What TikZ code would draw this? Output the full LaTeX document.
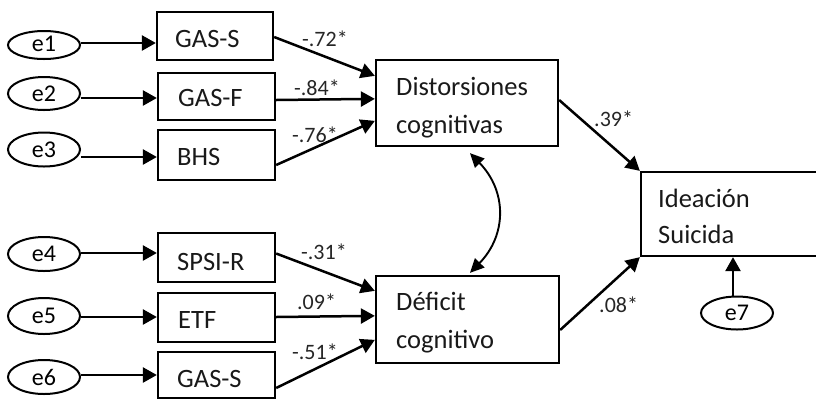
\documentclass[tikz,border=0pt]{standalone}
\usepackage{fontspec}
\setmainfont{Carlito}
\usetikzlibrary{arrows.meta,calc,shapes.geometric}
\begin{document}
\begin{tikzpicture}[x=1pt,y=-1pt,
  box/.style={draw,line width=2.3pt,rectangle,inner sep=0pt},
  err/.style={draw,line width=2pt,ellipse,inner sep=0pt,minimum width=72pt,font=\fontsize{24}{24}\selectfont},
  txt/.style={anchor=base west,inner sep=0pt,font=\fontsize{26.5}{26.5}\selectfont,text=black!90},
  coef/.style={anchor=base west,inner sep=0pt,font=\fontsize{22}{22}\selectfont,text=black!85},
  arr/.style={line width=2.5pt,-{Triangle[length=14pt,width=15pt]}},
  dbl/.style={line width=1.9pt,{Triangle[length=14pt,width=13pt]}-{Triangle[length=14pt,width=13pt]}},
]
\useasboundingbox (0,0) rectangle (816,400);

% boxes
\node[box,minimum width=116pt,minimum height=48pt] (gass1) at (215,36) {};
\node[box,minimum width=117pt,minimum height=47pt] (gasf) at (216.5,96.5) {};
\node[box,minimum width=117pt,minimum height=50pt] (bhs) at (216.5,155) {};
\node[box,minimum width=117pt,minimum height=49pt] (spsi) at (216.5,257.5) {};
\node[box,minimum width=117pt,minimum height=49pt] (etf) at (216.5,317.5) {};
\node[box,minimum width=117pt,minimum height=46pt] (gass2) at (216.5,375) {};
\node[box,minimum width=182pt,minimum height=86pt] (dist) at (467,103) {};
\node[box,minimum width=183pt,minimum height=87pt] (def) at (467.5,319.5) {};
\node[box,minimum width=189pt,minimum height=84pt] (ideac) at (735.5,214) {};

% box texts
\node[txt] (t1) at (175,47) {GAS-S};
\node[txt] (t2) at (178,106) {GAS-F};
\node[txt] (t3) at (177,165) {BHS};
\node[txt] (t4) at (177,270) {SPSI-R};
\node[txt] (t5) at (178,328) {ETF};
\node[txt] (t6) at (177,387) {GAS-S};
\node[txt] (t7) at (396,95) {Distorsiones};
\node[txt] (t8) at (396,133) {cognitivas};
\node[txt] (t9) at (396,310) {Déficit};
\node[txt] (t10) at (396,348) {cognitivo};
\node[txt] (t11) at (658,207) {Ideación};
\node[txt] (t12) at (658,243) {Suicida};

% error terms
\node[err,minimum height=28pt] (e1) at (44,45) {\raisebox{2pt}{e1}};
\node[err,minimum height=33pt] (e2) at (44,93.5) {\raisebox{-7pt}{e2}};
\node[err,minimum height=34pt] (e3) at (44,149.5) {\raisebox{-9pt}{e3}};
\node[err,minimum height=34pt] (e4) at (44,254) {\raisebox{-11pt}{e4}};
\node[err,minimum height=36pt] (e5) at (44,316) {\raisebox{-9pt}{e5}};
\node[err,minimum height=34pt] (e6) at (44,377) {\raisebox{-3pt}{e6}};
\node[err,minimum height=33pt] (e7) at (737,313) {\raisebox{-5pt}{e7}};

% error arrows
\draw[arr] ([yshift=2pt]e1.east) -- ([yshift=2pt]e1.east -| gass1.west);
\draw[arr] ([yshift=-4.5pt]e2.east) -- ([yshift=-4.5pt]e2.east -| gasf.west);
\draw[arr] ([yshift=-7.5pt]e3.east) -- ([yshift=-7.5pt]e3.east -| bhs.west);
\draw[arr] ([yshift=1pt]e4.east) -- ([yshift=1pt]e4.east -| spsi.west);
\draw[arr] ([yshift=-1pt]e5.east) -- ([yshift=-1pt]e5.east -| etf.west);
\draw[arr] ([yshift=2pt]e6.east) -- ([yshift=2pt]e6.east -| gass2.west);
\draw[arr] ([xshift=-4pt]e7.north) -- ([xshift=-4pt]e7.north |- ideac.south);

% paths to latent boxes
\draw[arr] ($(gass1.east)+(0,1)$) -- ($(dist.north west)+(0,17)$);
\draw[arr] ($(gasf.east)+(0,3.5)$) -- ($(dist.north west)+(0,40)$);
\draw[arr] ($(bhs.east)+(0,10)$) -- ($(dist.north west)+(0,62)$);
\draw[arr] ($(spsi.east)+(0,-4)$) -- ($(def.north west)+(0,16)$);
\draw[arr] ($(etf.east)+(0,-0.5)$) -- ($(def.north west)+(0,41)$);
\draw[arr] ($(gass2.east)+(0,13)$) -- ($(def.north west)+(0,65)$);

% paths to outcome
\draw[arr] ($(dist.east)+(0,-3)$) -- (ideac.north west);
\draw[arr] ($(def.east)+(0,10.5)$) -- (ideac.south west);

% covariance
\draw[dbl] ($(dist.south)+(3,6)$) .. controls +(37,38) and +(37,-38) .. ($(def.north)+(2.5,-2)$);

% coefficients
\node[coef] (c1) at (302,46) {-.72*};
\node[coef] (c2) at (294,95) {-.84*};
\node[coef] (c3) at (292,142) {-.76*};
\node[coef] (c4) at (301,259) {-.31*};
\node[coef] (c5) at (297,309) {.09*};
\node[coef] (c6) at (292,359) {-.51*};
\node[coef] (c7) at (594,126) {.39*};
\node[coef] (c8) at (599,312) {.08*};
\end{tikzpicture}
\end{document}
